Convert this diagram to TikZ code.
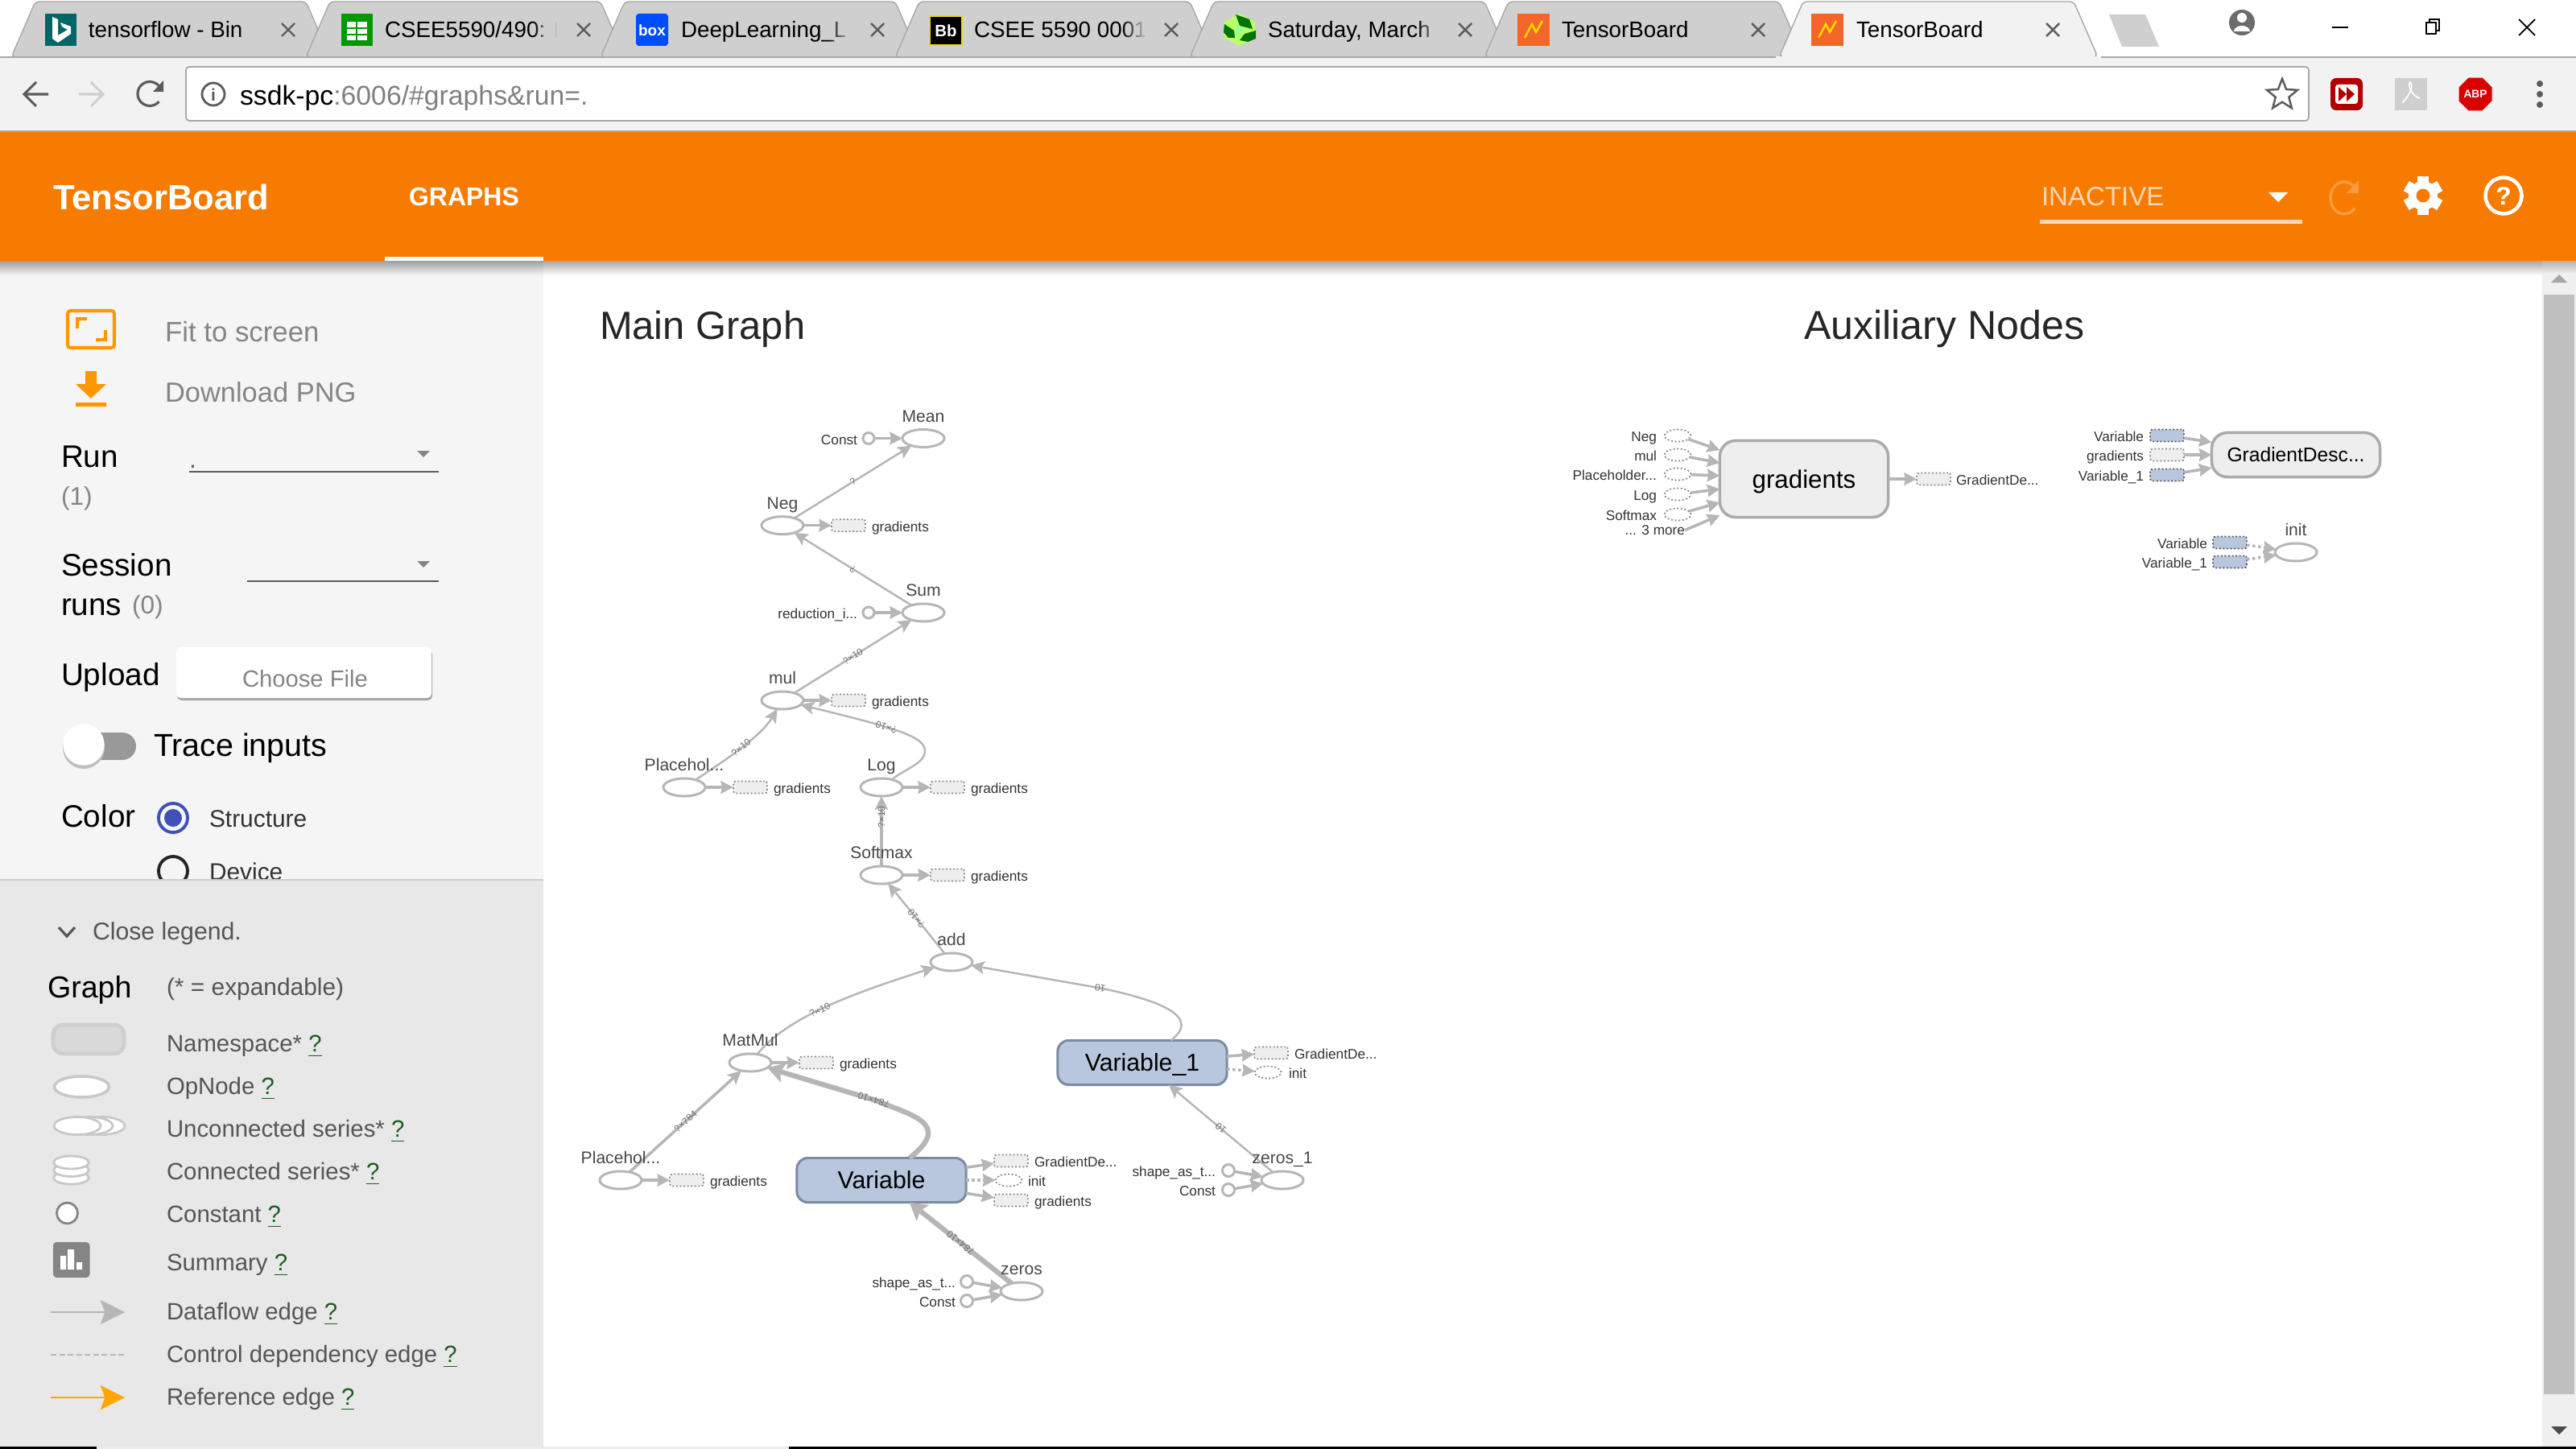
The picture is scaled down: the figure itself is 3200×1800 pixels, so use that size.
\documentclass[tikz,border=0pt]{standalone}
\usepackage{fontspec}
\setmainfont{Liberation Sans}
\usetikzlibrary{arrows.meta, positioning, shapes.geometric, fadings}
\definecolor{helpgreen}{HTML}{1B5E20}
\newcommand{\helpmark}{\textcolor{helpgreen}{\underline{?}}}
\tikzfading[name=tabfade, left color=transparent!100, right color=transparent!0]

\begin{document}
\begin{tikzpicture}[x=0.01cm, y=-0.01cm,
    txt/.style={inner sep=0pt, outer sep=0pt, font=\fontsize{#1}{#1}\selectfont},
    opnode/.style={ellipse, draw=edgegrey, line width=0.85pt, fill=white, inner sep=0pt, outer sep=0pt, minimum width=0.52cm, minimum height=0.22cm},
    constnode/.style={circle, draw=edgegrey, line width=0.85pt, fill=white, inner sep=0pt, outer sep=0pt, minimum size=0.14cm},
    gradbox/.style={rectangle, draw=boxdash, dash pattern=on 0.55pt off 0.75pt, line width=0.5pt, fill=boxgrey, rounded corners=0.8pt, inner sep=0pt, outer sep=0pt, minimum width=0.42cm, minimum height=0.15cm},
    varstub/.style={gradbox, draw=black!65, line width=0.5pt, fill=varbg},
    ghost/.style={ellipse, draw=boxdash, dash pattern=on 0.55pt off 0.75pt, line width=0.5pt, fill=white, inner sep=0pt, outer sep=0pt, minimum width=0.33cm, minimum height=0.15cm},
    varbox/.style={rectangle, rounded corners=3.8pt, draw=varborder, line width=0.85pt, fill=varbg, inner sep=0pt, outer sep=0pt, minimum width=2.1cm, minimum height=0.55cm, txt=8.6, text height=7.6pt, text depth=1.8pt},
    metabox/.style={rectangle, rounded corners=5.5pt, draw=metaborder, line width=1pt, fill=boxgrey, inner sep=0pt, outer sep=0pt, minimum width=2.09cm},
    flow/.style={draw=edgegrey, line width=0.7pt, -{Stealth[length=4.8pt, width=4.6pt, inset=1pt]}},
    stub/.style={draw=edgegrey, line width=1pt, -{Stealth[length=4.4pt, width=4.4pt, inset=0.4pt]}},
    ctrl/.style={stub, dash pattern=on 1pt off 1pt},
    flowwide/.style={flow, line width=1.8pt, -{Stealth[length=6pt, width=7pt, inset=1.2pt]}},
    edgelabel/.style={txt=3.4, text=edgetext, sloped, allow upside down},
    opname/.style={txt=6, text=nametext, anchor=mid, yshift=0.5pt},
    smalltext/.style={txt=4.9, text=smalltxt, yshift=0.5pt},
    sidetext/.style={txt=#1, anchor=mid west},
    tabtext/.style={txt=7.9, text=black, anchor=mid west}]
  \definecolor{edgegrey}{HTML}{B6B6B6}
  \definecolor{edgetext}{HTML}{707070}
  \definecolor{nametext}{HTML}{484848}
  \definecolor{smalltxt}{HTML}{333333}
  \definecolor{boxgrey}{HTML}{EEEEEE}
  \definecolor{boxdash}{HTML}{8A8A8A}
  \definecolor{varbg}{HTML}{B8C6DE}
  \definecolor{varborder}{HTML}{7C8AA2}
  \definecolor{metaborder}{HTML}{ABABAB}
  \definecolor{tabgrey}{HTML}{CFCFCF}
  \definecolor{barline}{HTML}{A8A8A8}
  \definecolor{toolbg}{HTML}{F2F2F2}
  \definecolor{tbicon}{HTML}{5C5C5C}
  \definecolor{tborange}{HTML}{F77B00}
  \definecolor{iconorange}{HTML}{FF9800}
  \definecolor{sidebg}{HTML}{F5F5F5}
  \definecolor{legendbg}{HTML}{E8E8E8}
  \definecolor{muted}{HTML}{858585}
  \definecolor{legendtxt}{HTML}{555555}
  \definecolor{radioblue}{HTML}{3F51B5}
  \definecolor{shapeline}{HTML}{C8C8C8}
  \definecolor{tabicon}{HTML}{F4652A}
  \useasboundingbox (0,0) rectangle (3200,1800);
  \fill[white] (0,0) rectangle (3200,1800);

  % browser tabs
  \foreach \tabx in {0,366,732,1098,1464,1830}{
    \filldraw[fill=tabgrey, draw=barline, line width=0.4pt, rounded corners=1.5pt] ({\tabx+14},71) -- ({\tabx+44},2) -- ({\tabx+380},2) -- ({\tabx+410},71) -- cycle;
  }
  \draw[barline, line width=0.6pt] (0,71) -- (3200,71);
  \filldraw[fill=toolbg, draw=barline, line width=0.4pt, rounded corners=1.5pt] (2210,71) -- (2240,2) -- (2576,2) -- (2606,71) -- cycle;
  \fill[toolbg] (0,72) rectangle (3200,163);
  \fill[toolbg] (2206,70) rectangle (2610,73);
  \fill[tabgrey] (2620,18) -- (2665,18) -- (2682,58) -- (2636,58) -- cycle;
  \node[tabtext] (tabA) at (110,37) {tensorflow - Bin};
  \node[tabtext] (tabB) at (478,37) {CSEE5590/490: F};
  \node[tabtext] (tabC) at (846,37) {DeepLearning\_L};
  \node[tabtext] (tabD) at (1210,37) {CSEE 5590 0001};
  \node[tabtext] (tabE) at (1575,37) {Saturday, March};
  \node[tabtext] (tabF) at (1940,37) {TensorBoard};
  \node[tabtext] (tabG) at (2306,37) {TensorBoard};
  \foreach \fadex in {0,366,732,1098,1464}{
    \fill[tabgrey, path fading=tabfade] ({\fadex+296},14) rectangle ({\fadex+326},60);
    \fill[tabgrey] ({\fadex+326},14) rectangle ({\fadex+342},60);
  }
  \foreach \closex in {358,725,1090,1455,1820,2184,2550}{
    \draw[tbicon, line width=0.7pt] ({\closex-8},29) -- ({\closex+8},45) ({\closex-8},45) -- ({\closex+8},29);
  }
  % tab icons
  \fill[teal!80!black] (56,17) rectangle (95,57);
  \fill[white] (65,21) -- (72,24) -- (72,44) -- (84,37) -- (77,33) -- (75,28) -- (88,33) -- (88,42) -- (72,53) -- (65,48) -- cycle;
  \fill[green!60!black] (424,17) rectangle (463,57);
  \fill[white] (431,27) rectangle (456,50);
  \draw[green!60!black, line width=0.5pt] (431,35) -- (456,35) (431,43) -- (456,43) (443,27) -- (443,50);
  \fill[blue!70!cyan, rounded corners=1pt] (790,17) rectangle (830,57);
  \node[txt=5, font=\fontsize{5.4}{5.4}\selectfont\bfseries, text=white] (boxlogo) at (810,38) {box};
  \filldraw[fill=black, draw=yellow!70!brown, line width=0.6pt] (1155,20) rectangle (1195,56);
  \node[txt=5, font=\fontsize{5.8}{5.8}\selectfont\bfseries, text=white] (bblogo) at (1175,38) {Bb};
  \fill[green!45!yellow!60!white] (1540,17) -- (1559,27) -- (1559,47) -- (1540,57) -- (1521,47) -- (1521,27) -- cycle;
  \fill[green!45!black] (1535,18) -- (1552,24) -- (1556,36) -- (1540,32) -- cycle;
  \fill[green!45!black] (1521,30) -- (1533,38) -- (1534,47) -- (1526,47) -- (1520,40) -- cycle;
  \fill[green!45!black] (1540,50) -- (1546,42) -- (1560,38) -- (1560,48) -- (1550,52) -- cycle;
  \fill[white!60!green] (1536,30) -- (1548,38) -- (1536,44) -- cycle;
  \foreach \iconx in {1885,2250}{
    \fill[tabicon] (\iconx,17) rectangle ({\iconx+40},57);
    \draw[yellow!80!orange, line width=0.7pt] ({\iconx+9},47) -- ({\iconx+18},30) -- ({\iconx+23},40) -- ({\iconx+31},26);
  }
  % window buttons
  \fill[tbicon!90] (2785,28) circle (16);
  \fill[white] (2785,22) circle (6);
  \fill[white] (2775,39) arc (180:360:10 and 7) -- cycle;
  \draw[black, line width=0.5pt] (2897,34) -- (2917,34);
  \draw[black, line width=0.5pt] (3014,28) rectangle (3026,42) (3018,28) -- (3018,24) -- (3030,24) -- (3030,38) -- (3026,38);
  \draw[black, line width=0.5pt] (3129,24) -- (3149,44) (3129,44) -- (3149,24);

  % address bar
  \filldraw[fill=white, draw=barline, line width=0.5pt, rounded corners=1.2pt] (231,83) rectangle (2868,150);
  \draw[barline, line width=0.4pt] (0,163) -- (3200,163);
  \draw[tbicon, line width=0.9pt] (60,117) -- (30,117) (45,102) -- (30,117) -- (45,132);
  \draw[tabgrey, line width=0.9pt] (98,117) -- (128,117) (113,102) -- (128,117) -- (113,132);
  \draw[tbicon, line width=0.9pt] (199,109) arc (-30:-320:15);
  \fill[tbicon] (203,100) -- (203,114) -- (190,114) -- cycle;
  \draw[tbicon, line width=0.8pt] (265,117) circle (14);
  \node[txt=6, font=\fontsize{6}{6}\selectfont\bfseries, text=tbicon] (infomark) at (265,118) {i};
  \node[txt=9.6, anchor=mid west] (address) at (298,121) {ssdk-pc\textcolor{gray}{:6006/\#graphs\&run=.}};
  \node[star, star points=5, star point ratio=2.3, draw=tbicon, line width=0.7pt, inner sep=0pt, minimum size=0.4cm] (bookmark) at (2835,118) {};
  \fill[red!70!black, rounded corners=2pt] (2895,97) rectangle (2935,137);
  \fill[white, rounded corners=1pt] (2901,105) rectangle (2929,129);
  \fill[red!70!black] (2905,108) -- (2915,117) -- (2905,126) -- cycle (2915,108) -- (2925,117) -- (2915,126) -- cycle;
  \fill[tabgrey] (2975,97) rectangle (3015,137);
  \draw[white, line width=0.5pt] (2984,128) .. controls (2996,115) and (2998,105) .. (2994,102) .. controls (2990,106) and (2997,120) .. (3006,122);
  \node[regular polygon, regular polygon sides=8, fill=red!85!black, inner sep=0pt, minimum size=0.44cm, text=white, font=\fontsize{3.9}{3.9}\selectfont\bfseries] (abplogo) at (3075,117) {ABP};
  \foreach \doty in {104,117,130}{ \fill[tbicon] (3155,\doty) circle (4); }

  % orange toolbar
  \fill[tborange] (0,164) rectangle (3200,324);
  \node[txt=12.4, font=\fontsize{12.4}{12.4}\selectfont\bfseries, text=white, anchor=mid west] (brand) at (66,251) {TensorBoard};
  \node[txt=9.1, font=\fontsize{9.1}{9.1}\selectfont\bfseries, text=white, anchor=mid west] (graphstab) at (508,246) {GRAPHS};
  \fill[white] (478,319) rectangle (675,324);
  \node[txt=9.4, text=white!70!tborange, anchor=mid west] (inactive) at (2536,246) {INACTIVE};
  \fill[white!70!tborange] (2534,273) rectangle (2860,278);
  \fill[white] (2818,239) -- (2842,239) -- (2830,251) -- cycle;
  \draw[white!25!tborange, line width=1pt] (2925,233) arc (-40:-320:17 and 20);
  \fill[white!25!tborange] (2930,224) -- (2930,240) -- (2915,240) -- cycle;
  \fill[white] (3010,243) circle (18);
  \foreach \gearangle in {0,60,120}{
    \fill[white, rotate around={\gearangle:(3010,243)}] (3003,219) rectangle (3017,267);
  }
  \fill[tborange] (3010,243) circle (8.5);
  \draw[white, line width=1.3pt] (3110,243) circle (22.5);
  \node[txt=9, font=\fontsize{9}{9}\selectfont\bfseries, text=white] (helpmark) at (3110,243) {?};

  % left panel
  \fill[sidebg] (0,324) rectangle (675,1100);
  \draw[iconorange, line width=1.15pt, rounded corners=1pt] (84,386) rectangle (142,432);
  \fill[iconorange] (94,394) rectangle (108,398) (94,394) rectangle (98,408);
  \fill[iconorange] (119,420) rectangle (133,424) (129,410) rectangle (133,424);
  \node[sidetext=9.9, text=muted] (fitscreen) at (205,415) {Fit to screen};
  \fill[iconorange] (106,461) rectangle (120,477) (94,477) -- (132,477) -- (113,495) -- cycle (94,500) rectangle (132,505);
  \node[sidetext=9.8, text=muted] (downloadpng) at (205,490) {Download PNG};
  \node[sidetext=11] (runlabel) at (76,571) {Run};
  \node[sidetext=9, text=muted] (runcount) at (76,618) {(1)};
  \draw[tbicon, line width=0.4pt] (235,586) -- (545,586);
  \node[sidetext=9, text=tbicon] (rundot) at (235,572) {.};
  \fill[muted] (518,560) -- (534,560) -- (526,568) -- cycle;
  \node[sidetext=11] (sessionlabel) at (76,706) {Session};
  \node[sidetext=11] (runslabel) at (76,755) {runs};
  \node[sidetext=9, text=muted] (sessioncount) at (164,753) {(0)};
  \draw[tbicon, line width=0.4pt] (307,722) -- (545,722);
  \fill[muted] (518,697) -- (534,697) -- (526,705) -- cycle;
  \node[sidetext=11] (uploadlabel) at (76,842) {Upload};
  \fill[black!35, rounded corners=1.5pt] (220,807) rectangle (537,870);
  \fill[white, rounded corners=1.5pt] (219,804) rectangle (536,867);
  \node[txt=8.3, text=muted, anchor=mid] (choosefile) at (379,844) {Choose File};
  \fill[black!40, rounded corners=4.8pt] (100,910) rectangle (169,944);
  \fill[black!25] (104,929) circle (26);
  \filldraw[fill=white, draw=white] (104,925) circle (25);
  \node[sidetext=11.2] (traceinputs) at (191,930) {Trace inputs};
  \node[sidetext=11] (colorlabel) at (76,1018) {Color};
  \draw[radioblue, line width=1.1pt] (215,1016) circle (18);
  \fill[radioblue] (215,1016) circle (11);
  \node[sidetext=8.5, text=black!80] (structure) at (260,1018) {Structure};
  \draw[black!85, line width=1.1pt] (215,1082) circle (18);
  \node[sidetext=8.5, text=black!80] (devicelabel) at (260,1084) {Device};

  % legend
  \fill[legendbg] (0,1092) rectangle (675,1800);
  \draw[black!20, line width=0.8pt] (0,1093) -- (675,1093);
  \draw[legendtxt, line width=0.9pt] (73,1152) -- (83,1163) -- (93,1152);
  \node[sidetext=8.6, text=legendtxt] (closelegend) at (115,1158) {Close legend.};
  \node[sidetext=10.7] (graphlabel) at (59,1230) {Graph};
  \node[sidetext=8.5, text=legendtxt] (expandable) at (207,1227) {(* = expandable)};
  \foreach \rowname/\rowy in {Namespace*/1297, OpNode/1350, Unconnected series*/1403, Connected series*/1456, Constant/1509, Summary/1569, Dataflow edge/1630, Control dependency edge/1683, Reference edge/1736}{
    \node[sidetext=8.35, text=legendtxt] (legend\rowy) at (207,\rowy) {\rowname{} \helpmark};
  }
  \filldraw[fill=black!15, draw=black!19, line width=1.4pt, rounded corners=3.5pt] (66,1273) rectangle (154,1309);
  \filldraw[fill=white, draw=shapeline, line width=1pt] (101.5,1350) ellipse (34 and 13);
  \foreach \serx in {126,111,96}{
    \filldraw[fill=white, draw=shapeline, line width=0.8pt] (\serx,1398.5) ellipse (29 and 11);
  }
  \foreach \cony in {1463,1453.5,1444}{
    \filldraw[fill=white, draw=shapeline, line width=0.8pt] (88.5,\cony) ellipse (22 and 8);
  }
  \filldraw[fill=white, draw=muted, line width=0.8pt] (83.5,1507) circle (13);
  \fill[muted, rounded corners=1.2pt] (66,1543) rectangle (111.5,1587);
  \fill[white] (75,1560) rectangle (82,1577) (84,1552) rectangle (92,1577) (95,1568) rectangle (102,1577);
  \coordinate (flowstart) at (63,1630);
  \coordinate (flowend) at (155,1630);
  \coordinate (ctrlstart) at (63,1683);
  \coordinate (ctrlend) at (155,1683);
  \coordinate (refstart) at (63,1736);
  \coordinate (refend) at (155,1736);
  \draw[edgegrey, line width=0.8pt, -{Stealth[length=8.6pt, width=8.6pt, inset=1.6pt]}] (flowstart) -- (flowend);
  \draw[edgegrey, line width=0.6pt, dash pattern=on 2pt off 1pt] (ctrlstart) -- (ctrlend);
  \draw[orange!70!yellow, line width=0.8pt, -{Stealth[length=8.6pt, width=8.6pt, inset=1.6pt]}] (refstart) -- (refend);

  % shadow and scrollbar
  \shade[top color=black!38, bottom color=sidebg] (0,324) rectangle (675,342);
  \fill[white] (478,319) rectangle (675,324);
  \shade[top color=black!35, bottom color=white] (675,324) rectangle (3158,342);
  \fill[black!6] (3158,324) rectangle (3200,1797);
  \shade[top color=black!30, bottom color=black!6] (3158,324) rectangle (3200,340);
  \fill[black!25] (3160,366) rectangle (3198,1732);
  \fill[black!35] (3169,351) -- (3189,351) -- (3179,341) -- cycle;
  \fill[black!70] (3169,1772) -- (3189,1772) -- (3179,1782) -- cycle;
  \fill[black] (0,1797) rectangle (120,1800) (980,1797) rectangle (3200,1800);
  \fill[black!8] (120,1797) rectangle (980,1800);

  \node[txt=13.9, text=black!85, anchor=mid west] (maintitle) at (745,412) {Main Graph};
  \node[txt=14.25, text=black!85, anchor=mid west] (auxtitle) at (2241,412) {Auxiliary Nodes};

  % main graph nodes
  \foreach \id/\x/\y in {mean/1147/544.5, sum/1147/761, add/1182/1195, zerosA/1269/1604, zerosB/1593/1466}{
    \node[opnode] (\id) at (\x,\y) {};
  }
  \foreach \id/\x/\y in {neg/972/652.7, mul/972/870, placeA/850/978, logop/1095/978, softmax/1095/1087, matmul/932/1320, placeB/771/1466}{
    \node[opnode] (\id) at (\x,\y) {};
    \node[gradbox] (\id box) at ({\x+82},\y) {};
    \node[smalltext, anchor=mid west] (\id text) at ({\x+111},\y) {gradients};
    \draw[stub] (\id) -- (\id box);
  }
  \node[constnode] (constmean) at (1079,544.5) {};
  \node[smalltext, anchor=mid east] (constmeantext) at (1065,544.5) {Const};
  \node[constnode] (reduction) at (1079,761) {};
  \node[smalltext, anchor=mid east] (reductiontext) at (1065,761) {reduction\_i...};
  \node[varbox] (var) at (1095,1466) {Variable};
  \node[varbox] (varB) at (1419,1320) {Variable\_1};
  \node[gradbox] (vargrad) at (1256,1442) {};
  \node[smalltext, anchor=mid west] (vargradtext) at (1285,1442) {GradientDe...};
  \node[ghost] (varinit) at (1253,1466) {};
  \node[smalltext, anchor=mid west] (varinittext) at (1277,1466) {init};
  \node[gradbox] (vargradB) at (1256,1491) {};
  \node[smalltext, anchor=mid west] (vargradBtext) at (1285,1491) {gradients};
  \node[gradbox] (varBgrad) at (1579,1308) {};
  \node[smalltext, anchor=mid west] (varBgradtext) at (1608,1308) {GradientDe...};
  \node[ghost] (varBinit) at (1575,1332) {};
  \node[smalltext, anchor=mid west] (varBinittext) at (1601,1332) {init};
  \node[constnode, minimum size=0.15cm] (shapeA) at (1201,1592) {};
  \node[smalltext, anchor=mid east] (shapeAtext) at (1187,1592) {shape\_as\_t...};
  \node[constnode, minimum size=0.15cm] (constA) at (1201,1616) {};
  \node[smalltext, anchor=mid east] (constAtext) at (1187,1616) {Const};
  \node[constnode, minimum size=0.15cm] (shapeB) at (1526,1454) {};
  \node[smalltext, anchor=mid east] (shapeBtext) at (1510,1454) {shape\_as\_t...};
  \node[constnode, minimum size=0.15cm] (constB) at (1526,1478) {};
  \node[smalltext, anchor=mid east] (constBtext) at (1510,1478) {Const};

  % main graph edges
  \draw[stub] (constmean) -- (mean);
  \draw[stub] (reduction) -- (sum);
  \draw[flow] (neg) -- node[edgelabel] {?} (mean);
  \draw[flow] (sum) -- node[edgelabel] {?} (neg);
  \draw[flow] (mul) -- node[edgelabel] {?×10} (sum);
  \draw[flow] (placeA) .. controls (900,945) and (945,915) .. node[edgelabel] {?×10} (mul);
  \draw[flow] (logop) .. controls (1125,955) and (1149,948) .. (1149,933) .. controls (1149,915) and (1115,905) .. node[edgelabel, pos=0.6] {?×10} (mul);
  \draw[flow, line width=0.9pt] (softmax) -- node[edgelabel, pos=0.7] {?×10} (logop);
  \draw[flow] (add) -- node[edgelabel] {?×10} (softmax);
  \draw[flow] (matmul) .. controls (975,1268) and (1040,1240) .. node[edgelabel] {?×10} (add);
  \draw[flow] (varB) .. controls (1490,1265) and (1450,1245) .. (1370,1228) -- node[edgelabel, pos=0.02] {10} (add);
  \draw[flow, line width=1pt] (placeB) -- node[edgelabel] {?×784} (matmul);
  \draw[flowwide] (var) .. controls (1185,1395) and (1130,1385) .. (1088,1367) -- node[edgelabel, pos=0.02] {784×10} (matmul);
  \draw[flowwide] (zerosA) -- node[edgelabel] {784×10} (var);
  \draw[flow] (zerosB) -- node[edgelabel] {10} (varB);
  \draw[stub] (shapeA) -- (zerosA);
  \draw[stub] (constA) -- (zerosA);
  \draw[stub] (shapeB) -- (zerosB);
  \draw[stub] (constB) -- (zerosB);
  \draw[stub] (var) -- (vargrad);
  \draw[ctrl] (var) -- (varinit);
  \draw[stub] (var) -- (vargradB);
  \draw[stub] (varB) -- (varBgrad);
  \draw[ctrl] (varB) -- (varBinit);

  % op names go over the edges
  \foreach \x/\y/\caption [count=\i] in {1147/544.5/Mean, 972/652.7/Neg, 1147/761/Sum, 972/870/mul, 850/978/Placehol.{}.{}., 1095/978/Log, 1095/1087/Softmax, 1182/1195/add, 932/1320/MatMul, 771/1466/Placehol.{}.{}., 1269/1604/zeros, 1593/1466/zeros\_1}{
    \node[opname] (caption\i) at (\x,{\y-28}) {\caption};
  }

  % auxiliary nodes
  \node[metabox, minimum height=0.95cm, txt=8.9, text height=8.6pt, text depth=1.9pt, anchor=center] (gradients) at (2241,595) {gradients};
  \foreach \id/\y/\caption in {auxneg/541/Neg, auxmul/565/mul, auxplace/589/Placeholder.{}.{}., auxlog/614/Log, auxsoftmax/639/Softmax}{
    \node[ghost] (\id) at (2084,\y) {};
    \node[smalltext, anchor=mid east] (\id text) at (2058,\y) {\caption};
    \draw[stub] (\id) -- (gradients);
  }
  \node[smalltext, anchor=mid east] (auxmore) at (2093,657) {... 3 more};
  \draw[stub] (auxmore.east) -- (gradients);
  \node[gradbox] (gradout) at (2402,595) {};
  \node[smalltext, anchor=mid west] (gradouttext) at (2430,595) {GradientDe...};
  \draw[stub] (gradients) -- (gradout);
  \node[metabox, minimum height=0.55cm, txt=7, anchor=center] (descent) at (2852,565) {GradientDesc...};
  \node[varstub] (descvar) at (2692,541) {};
  \node[smalltext, anchor=mid east] (descvartext) at (2663,541) {Variable};
  \node[gradbox] (descgrad) at (2692,565) {};
  \node[smalltext, anchor=mid east] (descgradtext) at (2663,565) {gradients};
  \node[varstub] (descvarB) at (2692,590) {};
  \node[smalltext, anchor=mid east] (descvarBtext) at (2663,590) {Variable\_1};
  \draw[stub] (descvar) -- (descent);
  \draw[stub] (descgrad) -- (descent);
  \draw[stub] (descvarB) -- (descent);
  \node[opnode] (initop) at (2852,686) {};
  \node[opname] (initname) at (2852,658) {init};
  \node[varstub] (initvar) at (2770,674) {};
  \node[smalltext, anchor=mid east] (initvartext) at (2742,674) {Variable};
  \node[varstub] (initvarB) at (2770,698) {};
  \node[smalltext, anchor=mid east] (initvarBtext) at (2742,698) {Variable\_1};
  \draw[ctrl] (initvar) -- (initop);
  \draw[ctrl] (initvarB) -- (initop);
\end{tikzpicture}
\end{document}
